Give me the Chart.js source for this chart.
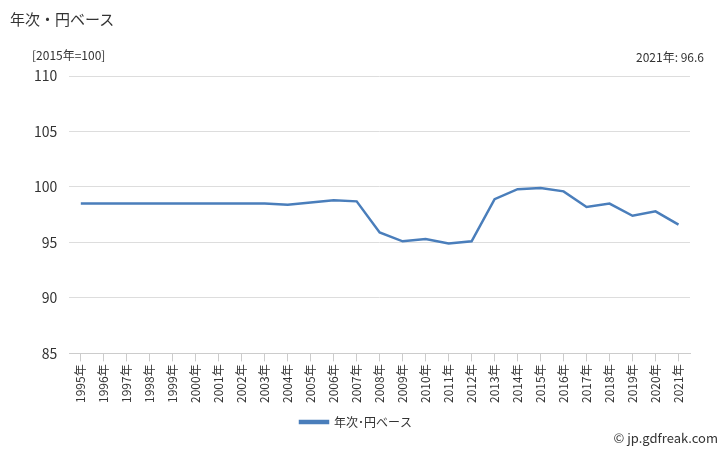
<!DOCTYPE html>
<html lang="ja">
<head>
<meta charset="UTF-8">
<script src="https://cdn.jsdelivr.net/npm/chart.js"></script>
<style>
  body { margin: 0; width: 728px; height: 450px; position: relative; font-family: "Noto Sans CJK JP", sans-serif; background: #fff; }
  #wrap { position: absolute; left: 0; top: 0; width: 728px; height: 450px; }
  .t { position: absolute; color: #333; white-space: nowrap; }
</style>
</head>
<body>
<div id="wrap"><canvas id="c" width="728" height="450"></canvas></div>
<div class="t" style="left:10px;top:8px;font-size:15px;">年次・円ベース</div>
<div class="t" style="left:32px;top:46px;font-size:12px;">[2015年=100]</div>
<div class="t" style="right:24px;top:48px;font-size:12px;">2021年: 96.6</div>
<div class="t" style="right:10px;top:428px;font-size:13px;">© jp.gdfreak.com</div>
<script>
const years = ['1995年','1996年','1997年','1998年','1999年','2000年','2001年','2002年','2003年','2004年','2005年','2006年','2007年','2008年','2009年','2010年','2011年','2012年','2013年','2014年','2015年','2016年','2017年','2018年','2019年','2020年','2021年'];
const values = [98.5,98.5,98.5,98.5,98.5,98.5,98.5,98.5,98.5,98.4,98.6,98.8,98.7,95.9,95.1,95.3,94.9,95.1,98.9,99.8,99.9,99.6,98.2,98.5,97.4,97.8,96.6];
const seriesName = '年次･円ベース';

new Chart(document.getElementById('c'), {
  type: 'line',
  data: {
    labels: years,
    datasets: [{
      label: seriesName,
      data: values,
      borderColor: '#4a7ebb',
      backgroundColor: '#4a7ebb',
      borderWidth: 2.5,
      pointRadius: 0,
      tension: 0
    }]
  },
  options: {
    responsive: false,
    animation: false,
    layout: { padding: { left: 22, right: 38, top: 76, bottom: 12 } },
    plugins: {
      legend: {
        position: 'bottom',
        labels: { boxWidth: 28, boxHeight: 2, color: '#333', font: { family: 'Noto Sans CJK JP', size: 12 } }
      },
      tooltip: { enabled: false }
    },
    scales: {
      x: {
        offset: true,
        grid: { display: true, drawOnChartArea: false, tickLength: 8, color: '#ccc' },
        border: { color: '#ccc' },
        ticks: { maxRotation: 90, minRotation: 90, autoSkip: false, color: '#333', font: { family: 'Noto Sans CJK JP', size: 12 } }
      },
      y: {
        min: 85, max: 110,
        ticks: { stepSize: 5, color: '#333', padding: 12, font: { family: 'Noto Sans CJK JP', size: 14 } },
        grid: { color: '#ddd', drawTicks: false },
        border: { display: false }
      }
    }
  }
});
</script>
</body>
</html>
